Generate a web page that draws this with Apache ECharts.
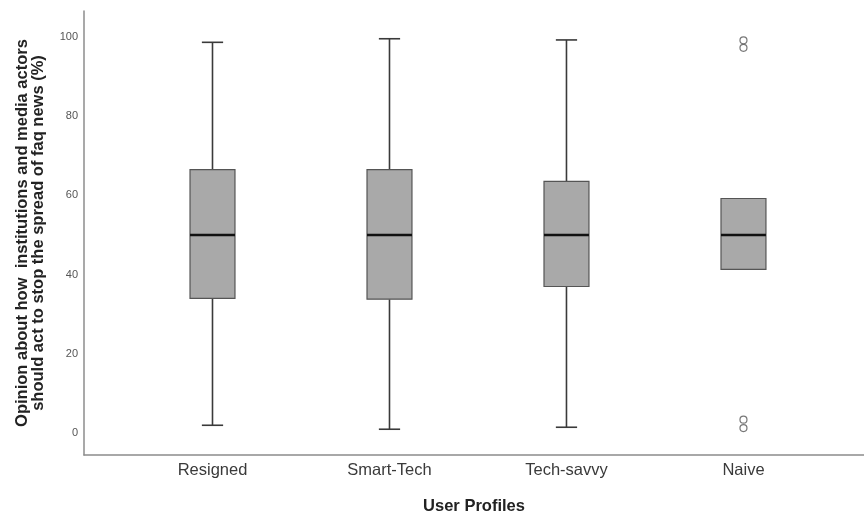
<!DOCTYPE html>
<html>
<head>
<meta charset="utf-8">
<script src="https://cdn.jsdelivr.net/npm/echarts@6/dist/echarts.min.js"></script>
<style>
  html, body { margin: 0; padding: 0; background: #ffffff; }
  #chart { width: 864px; height: 521px; }
</style>
</head>
<body>
<div id="chart"></div>
<script>
// User profile groups along the x axis
const categories = ['Resigned', 'Smart-Tech', 'Tech-savvy', 'Naive'];

// Five-number summaries per profile: [min, Q1, median, Q3, max]
const whiskerLow  = [2.0, 1.0, 1.5, 41.3];
const quartile1   = [34.0, 33.8, 37.0, 41.3];
const medians     = [50.0, 50.0, 50.0, 50.0];
const quartile3   = [66.5, 66.5, 63.5, 59.2];
const whiskerHigh = [98.6, 99.5, 99.2, 59.2];

// Outliers: [profile index, value]
const outliers = [[3, 99.1], [3, 97.2], [3, 3.4], [3, 1.3]];

const yTicks = [0, 20, 40, 60, 80, 100];

const boxData = categories.map((c, i) => [i, whiskerLow[i], quartile1[i], medians[i], quartile3[i], whiskerHigh[i]]);

const BOX_W = 0.254;   // box width in category units
const CAP_W = 0.12;    // whisker cap width in category units
const FONT = '"Liberation Sans", Arial, sans-serif';

const chart = echarts.init(document.getElementById('chart'), null, { renderer: 'canvas' });

chart.setOption({
  backgroundColor: '#ffffff',
  animation: false,
  grid: { left: 84, right: 0, top: 11, bottom: 66, containLabel: false },
  xAxis: {
    type: 'value',
    min: -0.726,
    max: 3.681,
    name: 'User Profiles',
    nameLocation: 'middle',
    nameGap: 43,
    nameTextStyle: { fontFamily: FONT, fontSize: 16.5, fontWeight: 'bold', color: '#222' },
    axisLine: { show: true, onZero: false, lineStyle: { color: '#8c8c8c', width: 1.5 } },
    axisTick: { show: false },
    splitLine: { show: false },
    axisLabel: {
      customValues: [0, 1, 2, 3],
      formatter: v => categories[Math.round(v)] || '',
      fontFamily: FONT,
      fontSize: 16.5,
      color: '#3a3a3a',
      margin: 7
    }
  },
  yAxis: {
    type: 'value',
    min: -5.5,
    max: 106.5,
    name: 'Opinion about how  institutions and media actors\nshould act to stop the spread of faq news (%)',
    nameLocation: 'middle',
    nameGap: 38,
    nameRotate: 90,
    nameTextStyle: { fontFamily: FONT, fontSize: 16.5, fontWeight: 'bold', color: '#222', lineHeight: 16 },
    axisLine: { show: true, onZero: false, lineStyle: { color: '#8c8c8c', width: 1.5 } },
    axisTick: { show: false },
    splitLine: { show: false },
    axisLabel: {
      customValues: yTicks,
      fontFamily: FONT,
      fontSize: 11,
      color: '#555',
      margin: 6
    }
  },
  series: [
    {
      type: 'custom',
      data: boxData,
      encode: { x: 0, y: [1, 2, 3, 4, 5] },
      renderItem: function (params, api) {
        const x = api.value(0);
        const lo = api.coord([x, api.value(1)]);
        const q1 = api.coord([x, api.value(2)]);
        const md = api.coord([x, api.value(3)]);
        const q3 = api.coord([x, api.value(4)]);
        const hi = api.coord([x, api.value(5)]);
        const bw = api.size([BOX_W, 0])[0];
        const cw = api.size([CAP_W, 0])[0];
        const cx = md[0];
        const whisker = { stroke: '#3a3a3a', lineWidth: 1.6 };
        const children = [];
        if (hi[1] < q3[1] - 0.5) {
          children.push({ type: 'line', shape: { x1: cx, y1: hi[1], x2: cx, y2: q3[1] }, style: whisker });
          children.push({ type: 'line', shape: { x1: cx - cw / 2, y1: hi[1], x2: cx + cw / 2, y2: hi[1] }, style: whisker });
        }
        if (lo[1] > q1[1] + 0.5) {
          children.push({ type: 'line', shape: { x1: cx, y1: q1[1], x2: cx, y2: lo[1] }, style: whisker });
          children.push({ type: 'line', shape: { x1: cx - cw / 2, y1: lo[1], x2: cx + cw / 2, y2: lo[1] }, style: whisker });
        }
        children.push({
          type: 'rect',
          shape: { x: cx - bw / 2, y: q3[1], width: bw, height: q1[1] - q3[1] },
          style: { fill: '#a9a9a9', stroke: '#555555', lineWidth: 1.2 }
        });
        children.push({
          type: 'line',
          shape: { x1: cx - bw / 2, y1: md[1], x2: cx + bw / 2, y2: md[1] },
          style: { stroke: '#111111', lineWidth: 2.4 }
        });
        return { type: 'group', children: children };
      },
      z: 2
    },
    {
      type: 'scatter',
      data: outliers,
      symbol: 'circle',
      symbolSize: 7,
      itemStyle: { color: 'rgba(255,255,255,0)', borderColor: '#555555', borderWidth: 1.2 },
      z: 3
    }
  ]
});
</script>
</body>
</html>
